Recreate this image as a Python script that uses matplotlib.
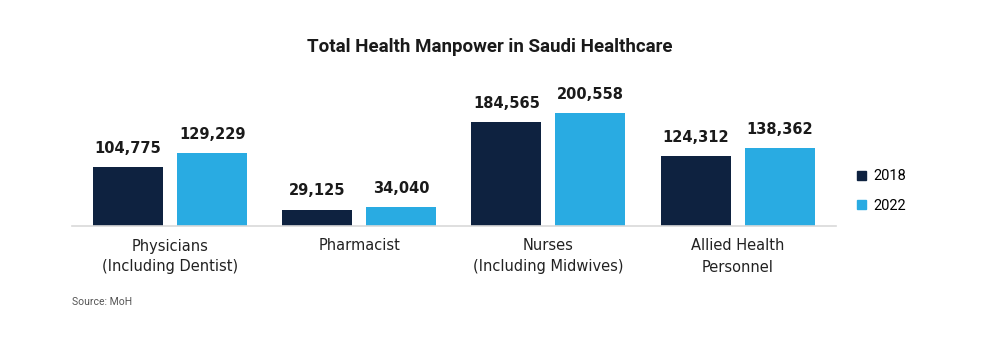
import numpy as np
import matplotlib.pyplot as plt
from matplotlib.patches import Patch

categories = ["Physicians\n(Including Dentist)", "Pharmacist",
              "Nurses\n(Including Midwives)", "Allied Health\nPersonnel"]
years = ["2018", "2022"]
values_2018 = [104775, 29125, 184565, 124312]
values_2022 = [129229, 34040, 200558, 138362]

dark = "#0e2240"
light = "#29abe2"

fig = plt.figure(figsize=(9.94, 3.63), dpi=100)
ax = fig.add_axes([72 / 994, 1 - 226 / 363, (836 - 72) / 994, 146.4 / 363])

x = np.arange(len(categories))
w = 0.370
off = 0.222
b1 = ax.bar(x - off, values_2018, w, color=dark)
b2 = ax.bar(x + off, values_2022, w, color=light)

for bars in (b1, b2):
    for bar in bars:
        h = bar.get_height()
        ax.annotate(f"{h:,.0f}", (bar.get_x() + bar.get_width() / 2, h),
                    xytext=(0, 8), textcoords="offset points",
                    ha="center", va="bottom", fontsize=10.5, fontweight="bold",
                    family="DejaVu Sans", color="#1a1a1a")

ax.set_xlim(-0.519, 3.52)
ax.set_ylim(0, 260000)
ax.set_yticks([])
ax.set_xticks(x)
ax.set_xticklabels(categories, fontsize=10.5, family="DejaVu Sans",
                   color="#222222", linespacing=1.5)
ax.tick_params(axis="x", length=0, pad=9)
for s in ["top", "right", "left"]:
    ax.spines[s].set_visible(False)
ax.spines["bottom"].set_color("#d9d9d9")
ax.spines["bottom"].set_linewidth(1.2)

fig.text(490 / 994, 1 - 47 / 363, "Total Health Manpower in Saudi Healthcare",
         ha="center", va="center", fontsize=13.5, fontweight="bold",
         family="Roboto", color="#1a1a1a")
fig.text(72 / 994, 1 - 302 / 363, "Source: MoH", ha="left", va="center",
         fontsize=7.5, family="Roboto", color="#555555")

handles = [Patch(color=dark, label=years[0]), Patch(color=light, label=years[1])]
fig.legend(handles=handles, loc="center left",
           bbox_to_anchor=(844 / 994, 1 - 191 / 363), frameon=False,
           handlelength=0.6, handleheight=0.6, handletextpad=0.5,
           labelspacing=1.05, prop={"family": "Roboto", "size": 10.5})

fig.savefig("out.png", dpi=100, facecolor="white")
